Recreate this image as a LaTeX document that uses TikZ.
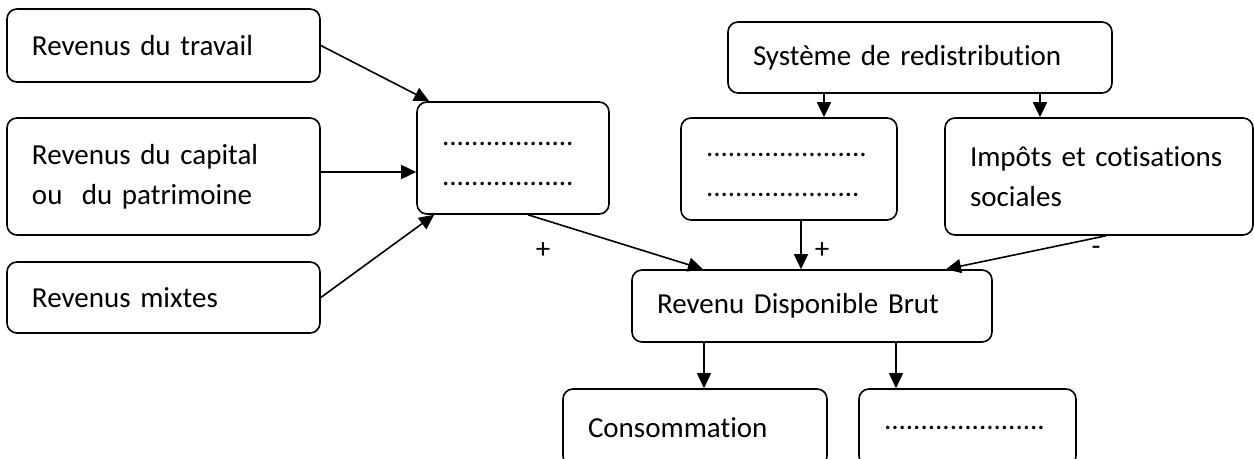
\documentclass[tikz,border=0pt]{standalone}
\usepackage{fontspec}
\setmainfont[Ligatures=NoCommon]{Carlito}
\usetikzlibrary{arrows.meta}

\begin{document}
\begin{tikzpicture}[x=0.5pt, y=-0.5pt, >={Triangle[length=7.5pt,width=7pt]},
  every node/.style={font=\fontsize{14.5}{20}\selectfont},
  box/.style={draw, line width=0.8pt, rounded corners=5pt, align=left,
    inner xsep=12.5pt, inner ysep=0pt},
  fl/.style={->, line width=0.8pt}]
  % cadre de la page
  \useasboundingbox (0,0) rectangle (1254,459);

  % revenus primaires
  \node[box, text width=131.5pt, minimum height=36.5pt] (travail) at (163.5,45.5) {Revenus du travail};
  \node[box, text width=131.5pt, minimum height=58.5pt] (capital) at (163.5,176.5) {Revenus du capital\\ou~ du patrimoine};
  \node[box, text width=131.5pt, minimum height=35.5pt] (mixtes) at (163.5,297.5) {Revenus mixtes};
  \node[box, text width=71pt, minimum height=56pt] (total) at (513,158) {\strut..................\\\strut..................};

  % redistribution
  \node[box, text width=167pt, minimum height=35.5pt] (systeme) at (920,57.5) {Système de redistribution};
  \node[box, text width=83pt, minimum height=51pt] (prest) at (789,169) {\strut......................\\\strut.....................};
  \node[box, text width=129pt, minimum height=58.5pt] (impots) at (1099,176.5) {Impôts et cotisations\\sociales};

  % revenu disponible et emplois
  \node[box, text width=155pt, minimum height=36pt] (rdb) at (812,306) {Revenu Disponible Brut};
  \node[box, text width=107pt, minimum height=38.5pt] (conso) at (695,427.5) {Consommation};
  \node[box, text width=83.5pt, minimum height=38.5pt] (epargne) at (967.5,427.5) {......................};

  % fleches
  \draw[fl] (travail.east) -- ([xshift=6.5pt]total.north west);
  \draw[fl] ([yshift=2.25pt]capital.east) -- ([yshift=2.25pt]capital.east -| total.west);
  \draw[fl] (mixtes.east) -- ([xshift=9pt]total.south west);
  \draw[fl] ([xshift=7.5pt]total.south) -- ([xshift=-54.5pt]rdb.north);
  \draw[fl] ([xshift=17.5pt]prest.north |- systeme.south) -- ([xshift=17.5pt]prest.north);
  \draw[fl] ([xshift=-29.5pt]impots.north |- systeme.south) -- ([xshift=-29.5pt]impots.north);
  \draw[fl] ([xshift=6pt]prest.south) -- ([xshift=6pt]prest.south |- rdb.north);
  \draw[fl] ([xshift=3.5pt]impots.south) -- ([xshift=67pt]rdb.north);
  \draw[fl] ([xshift=-54pt]rdb.south) -- ([xshift=-54pt]rdb.south |- conso.north);
  \draw[fl] ([xshift=42pt]rdb.south) -- ([xshift=42pt]rdb.south |- epargne.north);

  % signes
  \node (plusA) at (543,251) {+};
  \node (plusB) at (822,251) {+};
  \node (moins) at (1096,251) {-};
\end{tikzpicture}
\end{document}
